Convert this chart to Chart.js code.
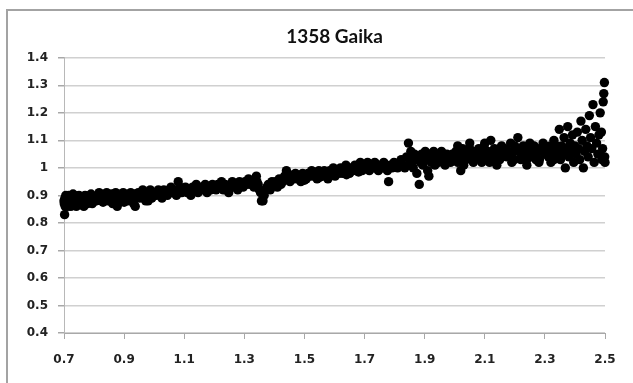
<!DOCTYPE html>
<html>
<head>
<meta charset="utf-8">
<title>1358 Gaika</title>
<script src="https://cdn.jsdelivr.net/npm/chart.js@4.4.1/dist/chart.umd.min.js"></script>
<style>
  html, body { margin: 0; padding: 0; background: #fff; }
  #wrap { position: relative; width: 633px; height: 383px; overflow: hidden; }
  #frame { position: absolute; left: 6px; top: 9px; width: 700px; height: 500px; border: 2px solid #a3a3a3; }
  #gaikaChart { position: absolute; left: 0; top: 0; }
</style>
</head>
<body>
<div id="wrap">
  <div id="frame"></div>
  <canvas id="gaikaChart" width="633" height="383"></canvas>
</div>
<script>
const chartTitle = "1358 Gaika";

const xTicks = [0.7, 0.9, 1.1, 1.3, 1.5, 1.7, 1.9, 2.1, 2.3, 2.5];
const yTicks = [0.4, 0.5, 0.6, 0.7, 0.8, 0.9, 1.0, 1.1, 1.2, 1.3, 1.4];
const yTickLabels = ["0.4", "0.5", "0.6", "0.7", "0.8", "0.9", "1", "1.1", "1.2", "1.3", "1.4"];

// phase (x) and relative brightness (y), one entry per observation
const phase = [
  0.700, 0.701, 0.702, 0.703, 0.704, 0.705, 0.706, 0.708, 0.710, 0.712, 0.714, 0.716, 0.718, 0.720, 0.723, 0.726, 0.729, 0.732,
  0.735, 0.738, 0.741, 0.744, 0.747, 0.750, 0.754, 0.758, 0.762, 0.766, 0.770, 0.774, 0.778, 0.782, 0.786, 0.790, 0.794, 0.798,
  0.802, 0.807, 0.812, 0.817, 0.822, 0.827, 0.832, 0.837, 0.842, 0.847, 0.852, 0.857, 0.862, 0.867, 0.872, 0.877, 0.882, 0.887,
  0.892, 0.897, 0.902, 0.907, 0.912, 0.917, 0.922, 0.927, 0.932, 0.937, 0.942, 0.947, 0.952, 0.957, 0.962, 0.967, 0.972, 0.977,
  0.982, 0.987, 0.992, 0.997,
  0.730, 0.760, 0.790, 0.830, 0.860, 0.900, 0.940, 0.980,
  1.002, 1.008, 1.014, 1.020, 1.026, 1.032, 1.038, 1.044, 1.050, 1.056, 1.062, 1.068, 1.074, 1.080, 1.086, 1.092, 1.098, 1.104,
  1.110, 1.116, 1.122, 1.128, 1.134, 1.140, 1.146, 1.152, 1.158, 1.164, 1.170, 1.176, 1.182, 1.188, 1.194, 1.200, 1.206, 1.212,
  1.218, 1.224, 1.230, 1.236, 1.242, 1.248, 1.254, 1.260, 1.266, 1.272, 1.278, 1.284, 1.290, 1.296,
  1.302, 1.308, 1.314, 1.320, 1.326, 1.332, 1.340, 1.342, 1.346, 1.350, 1.354, 1.357, 1.362, 1.366, 1.370, 1.375, 1.380, 1.386,
  1.392, 1.398,
  1.404, 1.410, 1.416, 1.422, 1.428, 1.434, 1.440, 1.446, 1.452, 1.458, 1.464, 1.470, 1.476, 1.482, 1.488, 1.494, 1.500, 1.506,
  1.512, 1.518, 1.524, 1.530, 1.536, 1.542, 1.548, 1.554, 1.560, 1.566, 1.572, 1.578, 1.584, 1.590, 1.596, 1.602, 1.608, 1.614,
  1.620, 1.626, 1.632, 1.638, 1.644, 1.650, 1.656, 1.662, 1.668, 1.674, 1.680, 1.686, 1.692, 1.698,
  1.450, 1.500, 1.550, 1.600, 1.640, 1.680,
  1.704, 1.710, 1.716, 1.722, 1.728, 1.734, 1.740, 1.746, 1.752, 1.758, 1.764, 1.770, 1.776, 1.780, 1.786, 1.792, 1.798, 1.804,
  1.810, 1.816, 1.822, 1.828, 1.834, 1.840, 1.846, 1.850, 1.854, 1.858, 1.862, 1.866, 1.870, 1.874, 1.878, 1.882, 1.886, 1.890,
  1.894, 1.898, 1.902, 1.906, 1.910, 1.914, 1.918, 1.922, 1.926, 1.930, 1.934, 1.938, 1.942, 1.946, 1.950, 1.956, 1.962, 1.968,
  1.974, 1.980, 1.986, 1.992, 1.998,
  2.004, 2.010, 2.016, 2.020, 2.026, 2.032, 2.038, 2.044, 2.050, 2.056, 2.062, 2.068, 2.074, 2.080, 2.086, 2.092, 2.098, 2.104,
  2.110, 2.116, 2.120, 2.126, 2.132, 2.138, 2.144, 2.150, 2.156, 2.162, 2.168, 2.174, 2.180, 2.186, 2.192, 2.198, 2.204, 2.210,
  2.216, 2.222, 2.228, 2.234, 2.240, 2.246, 2.252, 2.258, 2.264, 2.270, 2.276, 2.282, 2.288, 2.294, 2.300, 2.306, 2.312, 2.318,
  2.324, 2.330, 2.336, 2.342, 2.348, 2.352,
  2.030, 2.090, 2.140, 2.190, 2.240, 2.280, 2.320,
  2.010, 2.050, 2.100, 2.150, 2.200, 2.250, 2.300, 2.340, 2.060, 2.130, 2.220, 2.270, 2.330,
  2.356, 2.360, 2.364, 2.368, 2.372, 2.376, 2.380, 2.384, 2.388, 2.392, 2.396, 2.400, 2.404, 2.408, 2.412, 2.416, 2.420, 2.424,
  2.428, 2.432, 2.436, 2.440, 2.444, 2.448, 2.452, 2.456, 2.460, 2.464, 2.468, 2.472, 2.476, 2.480, 2.484, 2.488, 2.490, 2.492,
  2.494, 2.496, 2.498, 2.499, 2.500
];

const brightness = [
  0.88, 0.87, 0.83, 0.89, 0.86, 0.88, 0.90, 0.87, 0.89, 0.86, 0.88, 0.90, 0.87, 0.89, 0.86, 0.88, 0.89, 0.87,
  0.90, 0.88, 0.86, 0.89, 0.88, 0.90, 0.87, 0.89, 0.88, 0.86, 0.90, 0.89, 0.87, 0.88, 0.90, 0.89, 0.87, 0.89,
  0.89, 0.88, 0.90, 0.91, 0.89, 0.88, 0.90, 0.89, 0.91, 0.88, 0.90, 0.89, 0.87, 0.90, 0.91, 0.86, 0.89, 0.90,
  0.88, 0.91, 0.90, 0.89, 0.88, 0.90, 0.91, 0.89, 0.87, 0.86, 0.90, 0.91, 0.89, 0.90, 0.92, 0.90, 0.88, 0.91,
  0.90, 0.92, 0.89, 0.91,
  0.905, 0.865, 0.905, 0.875, 0.905, 0.875, 0.905, 0.88,
  0.91, 0.90, 0.92, 0.91, 0.89, 0.92, 0.91, 0.90, 0.92, 0.93, 0.91, 0.92, 0.90, 0.95, 0.93, 0.91, 0.92, 0.93,
  0.91, 0.92, 0.90, 0.93, 0.92, 0.94, 0.91, 0.92, 0.93, 0.92, 0.94, 0.91, 0.93, 0.92, 0.94, 0.93, 0.92, 0.94,
  0.93, 0.95, 0.92, 0.94, 0.93, 0.91, 0.94, 0.95, 0.93, 0.94, 0.92, 0.95, 0.94, 0.93,
  0.95, 0.94, 0.96, 0.94, 0.95, 0.93, 0.97, 0.95, 0.94, 0.92, 0.91, 0.88, 0.88, 0.90, 0.92, 0.93, 0.94, 0.92,
  0.95, 0.94,
  0.95, 0.93, 0.96, 0.94, 0.95, 0.97, 0.99, 0.96, 0.95, 0.97, 0.96, 0.98, 0.96, 0.97, 0.95, 0.98, 0.97, 0.96,
  0.98, 0.97, 0.99, 0.97, 0.98, 0.96, 0.99, 0.98, 0.97, 0.99, 0.98, 0.96, 0.99, 0.98, 1.00, 0.97, 0.99, 0.98,
  1.00, 0.98, 0.99, 1.01, 0.99, 0.98, 1.00, 0.99, 1.01, 0.99, 1.00, 1.02, 0.99, 1.01,
  0.975, 0.955, 0.965, 0.985, 0.975, 0.985,
  1.00, 1.02, 0.99, 1.01, 1.00, 1.02, 1.01, 0.99, 1.01, 1.00, 1.02, 1.01, 0.99, 0.95, 1.01, 1.00, 1.02, 1.01,
  1.00, 1.02, 1.03, 1.01, 1.00, 1.04, 1.09, 1.02, 1.06, 1.04, 1.00, 1.05, 1.03, 0.98, 1.04, 0.94, 1.02, 1.05,
  1.01, 1.04, 1.06, 1.03, 0.99, 0.97, 1.05, 1.02, 1.04, 1.06, 1.01, 1.03, 1.05, 1.02, 1.04, 1.06, 1.03, 1.01,
  1.05, 1.04, 1.02, 1.05, 1.03,
  1.06, 1.02, 1.04, 0.99, 1.07, 1.05, 1.03, 1.06, 1.09, 1.04, 1.02, 1.06, 1.05, 1.07, 1.03, 1.05, 1.08, 1.04,
  1.06, 1.02, 1.10, 1.05, 1.07, 1.04, 1.06, 1.03, 1.08, 1.05, 1.07, 1.04, 1.06, 1.09, 1.05, 1.03, 1.07, 1.11,
  1.06, 1.04, 1.08, 1.05, 1.03, 1.07, 1.06, 1.04, 1.08, 1.05, 1.07, 1.03, 1.06, 1.09, 1.05, 1.07, 1.04, 1.08,
  1.06, 1.10, 1.05, 1.07, 1.14, 1.03,
  1.01, 1.02, 1.01, 1.02, 1.01, 1.02, 1.02,
  1.08, 1.07, 1.09, 1.07, 1.08, 1.09, 1.08, 1.08, 1.03, 1.03, 1.03, 1.03, 1.03,
  1.08, 1.05, 1.11, 1.00, 1.07, 1.15, 1.04, 1.09, 1.06, 1.12, 1.02, 1.08, 1.05, 1.13, 1.07, 1.03, 1.17, 1.10,
  1.00, 1.06, 1.14, 1.08, 1.04, 1.19, 1.11, 1.07, 1.23, 1.02, 1.15, 1.09, 1.05, 1.12, 1.20, 1.13, 1.03, 1.07,
  1.24, 1.27, 1.31, 1.04, 1.02
];

const points = phase.map((x, i) => ({ x, y: brightness[i] }));

const labelFont = { family: "'DejaVu Sans', sans-serif", size: 12, weight: "bold" };

new Chart(document.getElementById("gaikaChart"), {
  type: "scatter",
  data: {
    datasets: [{
      data: points,
      backgroundColor: "#000",
      borderWidth: 0,
      pointRadius: 4.7,
      pointHoverRadius: 4.7,
      clip: false,
    }],
  },
  options: {
    responsive: false,
    animation: false,
    events: [],
    layout: { padding: { left: 0, right: 28, top: 0, bottom: 6 } },
    plugins: {
      legend: { display: false },
      tooltip: { enabled: false },
      title: {
        display: true,
        fullSize: false,
        text: chartTitle,
        color: "#111",
        font: { family: "Lato, 'DejaVu Sans', sans-serif", size: 19, weight: "bold" },
        padding: { top: 25, bottom: 10 },
      },
    },
    scales: {
      x: {
        type: "linear",
        min: 0.7,
        max: 2.5,
        afterBuildTicks: (scale) => { scale.ticks = xTicks.map((value) => ({ value })); },
        afterFit: (scale) => { scale.height = 44; },
        ticks: {
          color: "#222",
          font: labelFont,
          padding: 14,
          maxRotation: 0,
          callback: (value) => String(value),
        },
        grid: { drawOnChartArea: false, drawTicks: true, tickLength: 6, color: "#a8a8a8" },
        border: { color: "#a8a8a8", width: 1 },
      },
      y: {
        type: "linear",
        min: 0.4,
        max: 1.4,
        afterBuildTicks: (scale) => { scale.ticks = yTicks.map((value) => ({ value })); },
        afterFit: (scale) => { scale.width = 64; },
        ticks: {
          color: "#222",
          font: labelFont,
          padding: 10,
          callback: (value, index) => yTickLabels[index],
        },
        grid: { color: "#d0d0d0", lineWidth: 1.5, tickLength: 6, tickColor: "#a8a8a8" },
        border: { color: "#b8b8b8", width: 1 },
      },
    },
  },
});
</script>
</body>
</html>
